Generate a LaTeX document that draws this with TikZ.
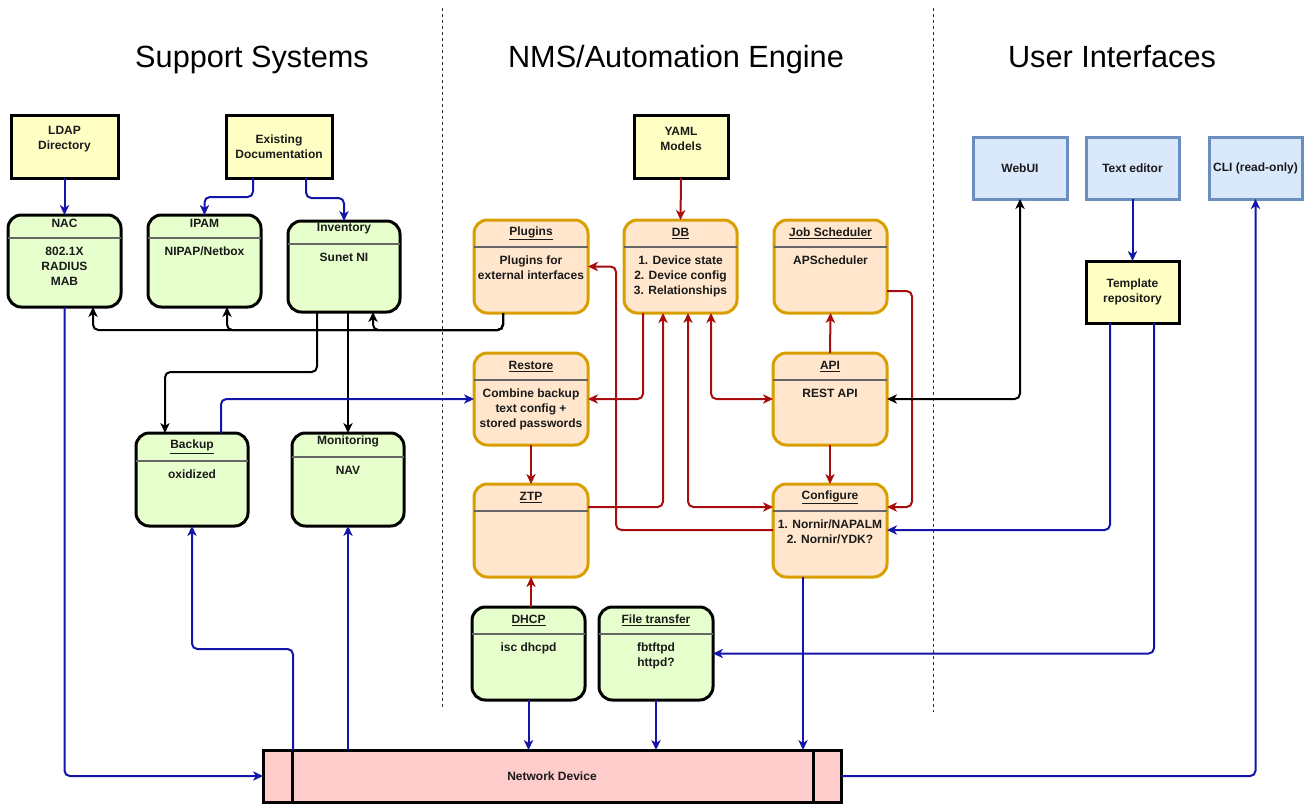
\documentclass[tikz,border=0pt]{standalone}
\usepackage{fontspec}
\setmainfont{Liberation Sans}
\usetikzlibrary{arrows.meta,calc,fit}
\definecolor{yfill}{HTML}{FFFFC4}
\definecolor{bfill}{HTML}{DAE8FC}
\definecolor{bdraw}{HTML}{6C8EBF}
\definecolor{gfill}{HTML}{E6FFCC}
\definecolor{ofill}{HTML}{FFE6CC}
\definecolor{odraw}{HTML}{D99E00}
\definecolor{rfill}{HTML}{FFCCCC}
\definecolor{cblue}{HTML}{1414A8}
\definecolor{cred}{HTML}{A80C0C}
\definecolor{sepc}{HTML}{666666}
\definecolor{txt}{HTML}{1A1A1A}
\tikzset{
  frame/.style={inner sep=0pt, outer sep=0pt, line width=2.25pt},
  yellowbox/.style={frame, draw=black, fill=yfill},
  bluebox/.style={frame, draw=bdraw, fill=bfill},
  greenbox/.style={frame, draw=black, fill=gfill, rounded corners=10pt},
  orangebox/.style={frame, draw=odraw, fill=ofill, rounded corners=10pt},
  ndbox/.style={frame, draw=black, fill=rfill},
  boxtext/.style={inner sep=0pt, align=center, text=txt, font=\fontsize{9}{11.25}\selectfont\bfseries},
  titletext/.style={inner sep=0pt, anchor=base, text=black, font=\fontsize{23}{27}\selectfont},
  sepline/.style={draw=sepc, line width=1.1pt},
  divider/.style={draw=black!80, line width=0.75pt, dash pattern=on 2.25pt off 2.25pt},
  tip/.tip={Stealth[length=7.5pt,width=7pt,inset=2.2pt]},
  conn/.style={line width=1.5pt, rounded corners=4pt, -tip},
  bl/.style={conn, draw=cblue},
  rd/.style={conn, draw=cred},
  bk/.style={conn, draw=black},
  both/.style={tip-tip},
}
\def\tdy{0}
\newcommand\swimbox[9]{%
  \node[#2, fit={(#3,#4) (#5,#6)}] (#1) {};
  \draw[sepline] ($(#1.north west)+(0,#7)$) -- ($(#1.north east)+(0,#7)$);
  \node[boxtext] (#1-t) at ($(#1.north)+(0,#7/2+\tdy)$) {#8};
  \node[boxtext, anchor=north] (#1-b) at ($(#1.north)+(0,#7+9)$) {#9};
}
\begin{document}
\begin{tikzpicture}[x=0.75pt,y=-0.75pt]
\useasboundingbox (0,0) rectangle (1308,804);

% titles and dividers
\node[titletext] (t1) at (252,67) {Support Systems};
\node[titletext] (t2) at (676,67) {NMS/Automation Engine};
\node[titletext] (t3) at (1112,67) {User Interfaces};
\draw[divider] (442,8) -- (442,710);
\draw[divider] (933,8) -- (933,712);

% yellow boxes
\node[yellowbox, fit={(11,115) (118,178)}] (ldap) {};
\node[boxtext] (ldap-t) at (64.5,139) {LDAP\\Directory};
\node[yellowbox, fit={(226,115) (332,178)}] (doc) {};
\node[boxtext] (doc-t) at (doc.center) {Existing\\Documentation};
\node[yellowbox, fit={(634,115) (728,178)}] (yaml) {};
\node[boxtext] (yaml-t) at (681,139) {YAML\\Models};
\node[yellowbox, fit={(1086,261) (1179,323)}] (tmpl) {};
\node[boxtext] (tmpl-t) at (tmpl.center) {Template\\repository};

% blue boxes
\node[bluebox, fit={(973,137) (1067,199)}] (webui) {};
\node[boxtext] (webui-t) at (webui.center) {WebUI};
\node[bluebox, fit={(1086,137) (1179,199)}] (texted) {};
\node[boxtext] (texted-t) at (texted.center) {Text editor};
\node[bluebox, fit={(1209,137) (1302,199)}] (cli) {};
\node[boxtext] (cli-t) at (cli.center) {CLI (read-only)};

% green boxes
\def\tdy{-3.5}
\swimbox{nac}{greenbox}{8}{215}{121}{307}{23}{NAC}{802.1X\\RADIUS\\MAB}
\swimbox{ipam}{greenbox}{148}{215}{261}{307}{23}{IPAM}{NIPAP/Netbox}
\swimbox{inv}{greenbox}{288}{221}{400}{312}{23}{Inventory}{Sunet NI}
\swimbox{mon}{greenbox}{292}{433}{404}{526}{24}{Monitoring}{NAV}
\def\tdy{0}
\swimbox{backup}{greenbox}{136}{433}{248}{526}{28}{\underline{Backup}}{oxidized}
\swimbox{dhcp}{greenbox}{472}{607}{585}{700}{27}{\underline{DHCP}}{isc dhcpd}
\swimbox{ft}{greenbox}{599}{607}{713}{700}{27}{\underline{File transfer}}{fbtftpd\\httpd?}

% orange boxes
\swimbox{plug}{orangebox}{474}{220}{588}{313}{27}{\underline{Plugins}}{Plugins for\\external interfaces}
\swimbox{db}{orangebox}{624}{220}{737}{313}{27}{\underline{DB}}{1. Device state\\2. Device config\\3. Relationships}
\swimbox{job}{orangebox}{774}{220}{887}{313}{27}{\underline{Job Scheduler}}{APScheduler}
\swimbox{restore}{orangebox}{474}{353}{588}{445}{27}{\underline{Restore}}{Combine backup\\text config +\\stored passwords}
\swimbox{ztp}{orangebox}{474}{484}{588}{577}{27}{\underline{ZTP}}{}
\swimbox{api}{orangebox}{773}{353}{887}{445}{27}{\underline{API}}{REST API}
\swimbox{conf}{orangebox}{773}{484}{887}{577}{27}{\underline{Configure}}{1. Nornir/NAPALM\\2. Nornir/YDK?}

% network device
\node[ndbox, fit={(263,750) (841,802)}] (nd) {};
\draw[line width=2.25pt] ($(nd.north west)+(29,0)$) -- ($(nd.south west)+(29,0)$);
\draw[line width=2.25pt] ($(nd.north east)+(-28,0)$) -- ($(nd.south east)+(-28,0)$);
\node[boxtext] (nd-t) at (nd.center) {Network Device};

% ---- connectors: support systems ----
\draw[bl] (ldap.south) -- (nac.north);
\draw[bl] ($(doc.south)+(-26,0)$) -- ++(0,19) -| (ipam.north);
\draw[bl] ($(doc.south)+(27,0)$) -- ++(0,20) -| (inv.north);
\draw[bk] ($(plug.south)+(-28,0)$) -- ++(0,17) -| ($(nac.south)+(28.5,0)$);
\draw[bk] ($(plug.south)+(-28,0)$) -- ++(0,17) -| ($(ipam.south)+(22.5,0)$);
\draw[bk] ($(plug.south)+(-28,0)$) -- ++(0,17) -| ($(inv.south)+(29,0)$);
\draw[bk] ($(inv.south)+(-27,0)$) -- ++(0,60) -| ($(backup.north)+(-27,0)$);
\draw[bk] ($(inv.south)+(4,0)$) -- (mon.north);
\draw[bl] ($(backup.north)+(29,0)$) |- (restore.west);
\draw[bl] ($(nd.north west)+(30,0)$) -- ++(0,-101) -| (backup.south);
\draw[bl] ($(nd.north west)+(85,0)$) -- (mon.south);
\draw[bl] (nac.south) |- (nd.west);

% ---- connectors: engine ----
\draw[rd] (yaml.south) -- (db.north);
\draw[rd] ($(db.south)+(-37.5,0)$) |- (restore.east);
\draw[rd] ($(ztp.north east)+(0,23)$) -| ($(db.south)+(-17.5,0)$);
\draw[rd, both] ($(db.south)+(7.5,0)$) |- ($(conf.north west)+(0,23)$);
\draw[rd, both] ($(db.south)+(30.5,0)$) |- (api.west);
\draw[rd] ($(conf.north west)+(0,46)$) -| ($(plug.east)+(28,0)$) -- (plug.east);
\draw[rd] (restore.south) -- (ztp.north);
\draw[rd] (ztp.south |- dhcp.north) -- (ztp.south);
\draw[rd] (api.north) -- (job.south);
\draw[rd] ($(job.north east)+(0,71)$) -- ++(25,0) |- ($(conf.north east)+(0,23)$);
\draw[rd] (api.south) -- (conf.north);

% ---- connectors: user interfaces ----
\draw[bk, both] (webui.south) |- (api.east);
\draw[bl] (texted.south) -- (tmpl.north);
\draw[bl] ($(tmpl.south)+(-22.5,0)$) |- ($(conf.north east)+(0,46)$);
\draw[bl] ($(tmpl.south)+(21.5,0)$) |- (ft.east);
\coordinate (cdown) at ($(conf.south)+(-27,0)$);
\draw[bl] (cdown) -- (cdown |- nd.north);
\draw[bl] (dhcp.south) -- (dhcp.south |- nd.north);
\draw[bl] (ft.south) -- (ft.south |- nd.north);
\draw[bl] (nd.east) -| (cli.south);
\end{tikzpicture}
\end{document}
